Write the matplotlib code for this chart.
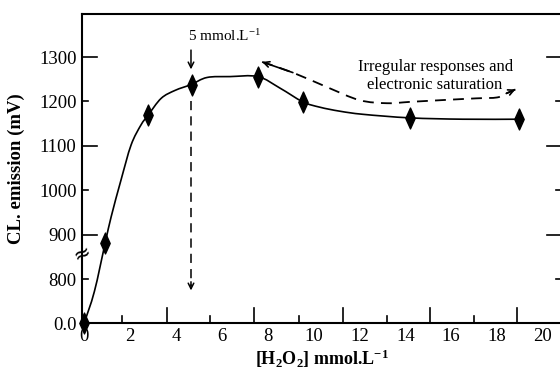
import numpy as np
import matplotlib
matplotlib.use('Agg')
import matplotlib.pyplot as plt
from matplotlib.path import Path
from matplotlib.patches import PathPatch

plt.rcParams['font.family'] = ['Liberation Serif', 'DejaVu Serif']
plt.rcParams['mathtext.default'] = 'regular'

# measured points (x in mmol/L, y in mV; 700 on the axis stands for 0.0 after the break)
h2o2 = [0.0, 0.9, 2.8, 4.7, 7.6, 9.55, 14.2, 18.95]
cl = [700, 881, 1169, 1238, 1256, 1199, 1163, 1160]

# smooth curve
curve_x = [0.0, 0.45, 0.92, 1.18, 1.61, 2.05, 2.48, 2.79, 3.36, 3.97, 4.66,
           5.36, 6.36, 7.58, 8.54, 9.54, 10.28, 11.15, 12.16, 14.2, 16.5, 18.95]
curve_y = [700, 772, 881, 940, 1023, 1102, 1147, 1169, 1207, 1225, 1238,
           1254, 1256, 1256, 1230, 1199, 1187, 1178, 1171, 1163, 1160, 1160]

# dashed "irregular" path
irr_x = [7.76, 9.1, 10.6, 12.0, 13.2, 14.2, 15.6, 17.1, 18.0, 18.4, 18.8]
irr_y = [1289, 1265, 1232, 1203, 1196, 1199, 1203, 1207, 1209, 1218, 1227]

yticks = [700, 800, 900, 1000, 1100, 1200, 1300]
ytick_labels = ['0.0', '800', '900', '1000', '1100', '1200', '1300']
xticks = [0, 2, 4, 6, 8, 10, 12, 14, 16, 18, 20]
# tick marks in the scan sit a bit off the labels
xmarks_long = [3.62, 7.41, 11.29, 15.08, 18.87]
xmarks_short = [1.66, 5.49, 9.37, 13.2, 17.0]


def smooth_path(ax, xs, ys):
    # bezier through the points (catmull-rom handles), built in display space
    pts = ax.transData.transform(np.column_stack([xs, ys]))
    verts = [pts[0]]
    codes = [Path.MOVETO]
    n = len(pts)
    for i in range(n - 1):
        p0 = pts[max(i - 1, 0)]
        p1 = pts[i]
        p2 = pts[i + 1]
        p3 = pts[min(i + 2, n - 1)]
        c1 = p1 + (p2 - p0) / 6.0
        c2 = p2 - (p3 - p1) / 6.0
        verts += [c1, c2, p2]
        codes += [Path.CURVE4] * 3
    verts = ax.transData.inverted().transform(np.array(verts))
    return Path(verts, codes)


fig = plt.figure(figsize=(5.6, 3.74), dpi=100)
ax = fig.add_axes([82/560, 50.6/374, 480/560, 309.4/374])
ax.set_xlim(-0.09, 20.83)
ax.set_ylim(700, 1397)

ax.add_patch(PathPatch(smooth_path(ax, curve_x, curve_y), fill=False, ec='black', lw=1.2, zorder=2))
diamond = Path([(0, 1), (0.45, 0), (0, -1), (-0.45, 0), (0, 1)],
               [Path.MOVETO, Path.LINETO, Path.LINETO, Path.LINETO, Path.CLOSEPOLY])
ax.plot(h2o2, cl, ls='none', marker=diamond, ms=15, color='black', zorder=3, clip_on=False)

ax.set_xticks(xticks)
ax.set_xticklabels([str(v) for v in xticks], fontsize=13.5)
ax.tick_params(axis='x', length=0, pad=3)
ax.set_yticks(yticks)
ax.set_yticklabels(ytick_labels, fontsize=13.5)
ax.tick_params(axis='y', length=0, pad=4)

ax.spines['right'].set_visible(False)
for s in ['left', 'top', 'bottom']:
    ax.spines[s].set_linewidth(1.5)

# inward tick marks, alternating long/short
for i, v in enumerate(yticks):
    ln = 0.031 if i % 2 == 0 else 0.013
    if v != 700:
        ax.plot([0, ln], [v, v], transform=ax.get_yaxis_transform(), color='black', lw=1.2, clip_on=False)
        ax.plot([1.0, 1.0 - ln], [v, v], transform=ax.get_yaxis_transform(), color='black', lw=1.2, clip_on=False)
for v in xmarks_long:
    ax.plot([v, v], [0, 0.05], transform=ax.get_xaxis_transform(), color='black', lw=1.2)
for v in xmarks_short:
    ax.plot([v, v], [0, 0.025], transform=ax.get_xaxis_transform(), color='black', lw=1.2)

# axis break mark
ax.text(0, 858, '\u2248', transform=ax.get_yaxis_transform(), fontsize=15,
        ha='center', va='center', rotation=25, family='DejaVu Sans', clip_on=False)

ax.set_xlabel('[H$_2$O$_2$] mmol.L$^{-1}$', fontsize=13, fontweight='bold', labelpad=2)
ax.set_ylabel('CL. emission (mV)', fontsize=13.5, fontweight='bold', labelpad=10)

# 5 mmol marker
ax.annotate('', xy=(4.66, 1266), xytext=(4.66, 1322),
            arrowprops=dict(arrowstyle='->', color='black', lw=1.1))
ax.text(6.14, 1347, '5 mmol.L$^{-1}$', fontsize=11, ha='center', va='center')
ax.plot([4.66, 4.66], [1200, 785], color='black', lw=1.1, dashes=(6, 4))
ax.annotate('', xy=(4.66, 768), xytext=(4.66, 800),
            arrowprops=dict(arrowstyle='->', color='black', lw=1.1))

# irregular responses
ax.add_patch(PathPatch(smooth_path(ax, irr_x, irr_y), fill=False, ec='black', lw=1.3,
                       linestyle=(0, (6, 4))))
ax.annotate('', xy=(irr_x[0], irr_y[0]), xytext=(irr_x[1], irr_y[1]),
            arrowprops=dict(arrowstyle='->', color='black', lw=1.2, shrinkA=0, shrinkB=0))
ax.annotate('', xy=(irr_x[-1], irr_y[-1]), xytext=(irr_x[-2], irr_y[-2]),
            arrowprops=dict(arrowstyle='->', color='black', lw=1.2, shrinkA=0, shrinkB=0))
ax.text(15.3, 1257, 'Irregular responses and\nelectronic saturation', fontsize=12,
        ha='center', va='center', linespacing=1.15)

fig.savefig('out.png', dpi=100)
